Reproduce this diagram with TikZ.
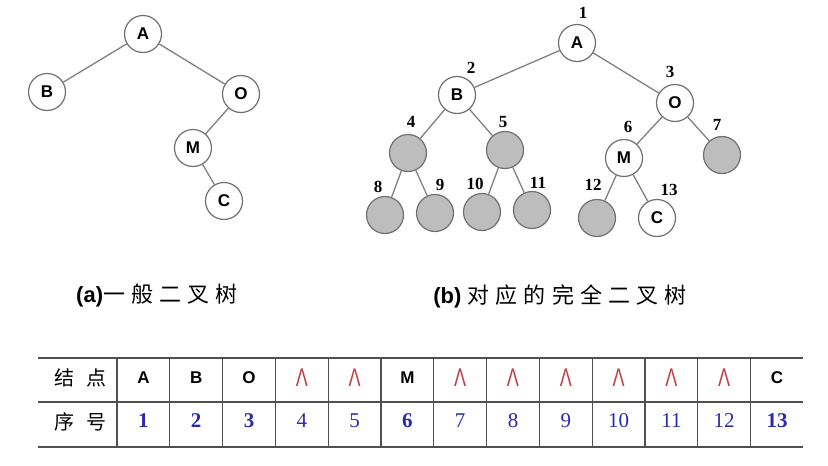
\documentclass[tikz,border=0pt]{standalone}
\usepackage{fontspec}
\usepackage{graphicx}
\setmainfont{Liberation Serif}
\setsansfont{Liberation Sans}
\newfontfamily\cjk[LetterSpace=28]{Noto Sans CJK SC}
\newfontfamily\cjkrow[LetterSpace=60]{Noto Sans CJK SC}
\definecolor{ringgray}{HTML}{707070}
\definecolor{holegray}{HTML}{BDBDBD}
\definecolor{linkgray}{HTML}{808080}
\definecolor{rulegray}{HTML}{505050}
\definecolor{nilred}{HTML}{C0404A}
\definecolor{numblue}{HTML}{2A2AB0}
\newcommand{\nil}{\textcolor{nilred}{\sffamily\mdseries\fontsize{19}{19}\selectfont\scalebox{0.95}[1.35]{Λ}}}

\begin{document}
\begin{tikzpicture}[x=1pt,y=-1pt,
  vertex/.style={circle,draw=ringgray,line width=1.2pt,fill=white,minimum size=37pt,inner sep=0pt,
    font=\sffamily\bfseries\fontsize{17}{17}\selectfont},
  hole/.style={vertex,fill=holegray},
  link/.style={draw=linkgray,line width=1.3pt},
  idx/.style={inner sep=0pt,font=\rmfamily\bfseries\fontsize{17}{17}\selectfont},
  rule/.style={draw=rulegray,line width=1.3pt},
  sym/.style={font=\sffamily\bfseries\fontsize{17}{17}\selectfont},
  num/.style={text=numblue,font=\rmfamily\fontsize{21}{21}\selectfont},
  bnum/.style={num,font=\rmfamily\bfseries\fontsize{21}{21}\selectfont},
  caption/.style={font=\fontsize{22}{22}\selectfont}]
  \useasboundingbox (0,0) rectangle (828,466);

  % (a) general tree
  \node[vertex] (aA) at (143,34) {A};
  \node[vertex] (aB) at (47,92) {B};
  \node[vertex] (aO) at (241,94) {O};
  \node[vertex] (aM) at (193,148) {M};
  \node[vertex] (aC) at (224,201) {C};
  \draw[link] (aA) -- (aB);
  \draw[link] (aA) -- (aO);
  \draw[link] (aO) -- (aM);
  \draw[link] (aM) -- (aC);

  % (b) matching complete tree
  \foreach \i/\x/\y/\lx/\ly/\t/\s in {1/577/43/583/13/A/vertex,2/457/95/471/68/B/vertex,
      3/675/103/670/72/O/vertex,4/408/153/411/122//hole,5/505/150/503/122//hole,
      6/624/158/628/127/M/vertex,7/722/155/717/125//hole,8/385/215/378/187//hole,
      9/435/213/440/185//hole,10/482/212/475/184//hole,11/532/210/538/183//hole,
      12/597/218/593/185//hole,13/657/218/669/190/C/vertex}
  {
    \node[\s] (b\i) at (\x,\y) {\t};
    \node[idx] (n\i) at (\lx,\ly) {\i};
  }
  \foreach \p/\c in {1/2,1/3,2/4,2/5,3/6,3/7,4/8,4/9,5/10,5/11,6/12,6/13}
    \draw[link] (b\p) -- (b\c);

  % Captions
  \node[caption] (capa) at (157,296) {\sffamily\bfseries(a)\mdseries\cjk 一般二叉树};
  \node[caption] (capb) at (560,296) {\sffamily\bfseries(b) \mdseries\cjk 对应的完全二叉树};

  % Table
  \foreach \y in {358,402,447} \draw[rule] (38,\y) -- (803,\y);
  \foreach \k in {0,...,12} \draw[rule] ({117+52.8*\k},358) -- ({117+52.8*\k},447);
  \node[font=\cjkrow\fontsize{20}{20}\selectfont] (head1) at (80,378) {结点};
  \node[font=\cjkrow\fontsize{20}{20}\selectfont] (head2) at (80,422) {序号};
  \foreach \k/\t/\n/\f in {0/A/1/bnum,1/B/2/bnum,2/O/3/bnum,3/\nil/4/num,4/\nil/5/num,
      5/M/6/bnum,6/\nil/7/num,7/\nil/8/num,8/\nil/9/num,9/\nil/10/num,10/\nil/11/num,
      11/\nil/12/num,12/C/13/bnum}
  {
    \node[sym] (sym\k) at ({143.4+52.8*\k},378) {\t};
    \node[\f] (num\k) at ({143.4+52.8*\k},421) {\n};
  }
\end{tikzpicture}
\end{document}
